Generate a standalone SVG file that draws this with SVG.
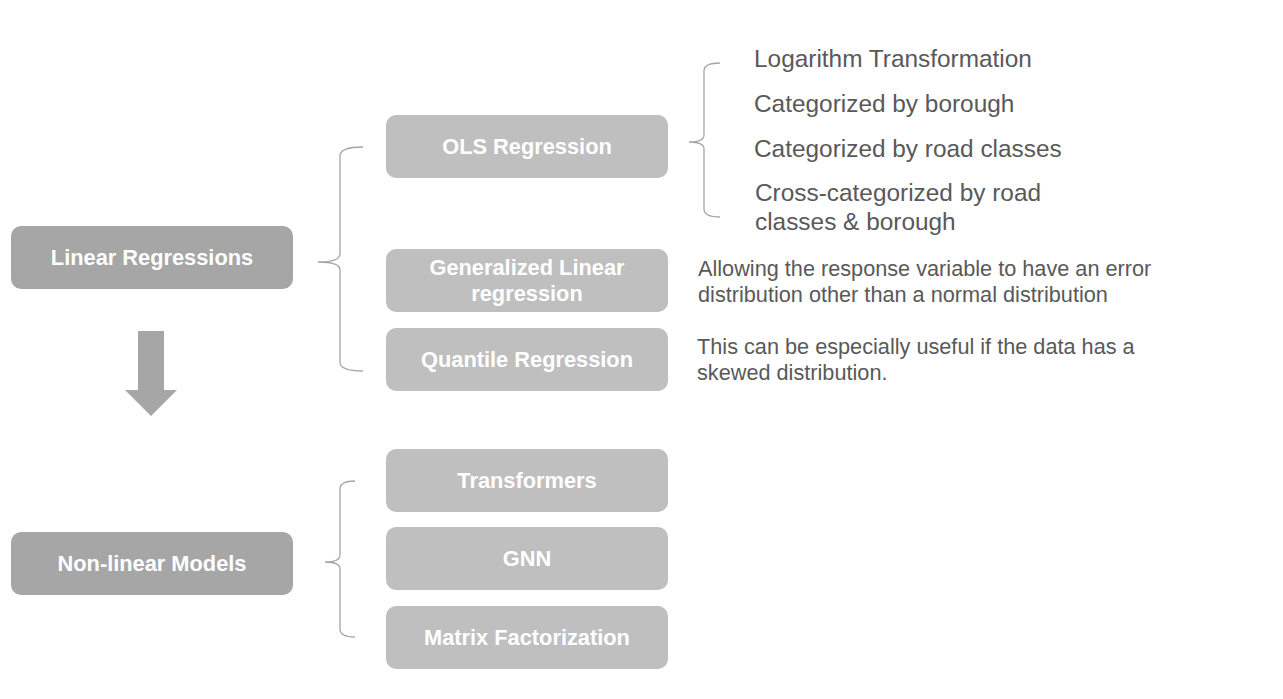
<svg xmlns="http://www.w3.org/2000/svg" width="1283" height="699" viewBox="0 0 1283 699">
<style>
.main{fill:#a6a6a6}
.sub{fill:#bfbfbf}
.bt{font-family:"Liberation Sans",Arial,sans-serif;font-weight:bold;font-size:21.8px;fill:#ffffff;text-anchor:middle}
.dt{font-family:"Liberation Sans",Arial,sans-serif;font-size:21.7px;fill:#595959}
.lt{font-family:"Liberation Sans",Arial,sans-serif;font-size:24.4px;fill:#595959}
.brace{fill:none;stroke:#a6a6a6;stroke-width:1.3}
</style>
<rect width="1283" height="699" fill="#ffffff"/>
<g id="connectors">
<path class="brace" d="M363,147 Q340,147 340,156 L340,254 Q340,262 318,262 Q340,262 340,270 L340,362 Q340,371 363,371"/>
<path class="brace" d="M355,481 Q340,481 340,489 L340,555 Q340,562 325,562 Q340,562 340,569 L340,629 Q340,637 355,637"/>
<path class="brace" d="M720,63 Q704,63 704,71 L704,135 Q704,142 689,142 Q704,142 704,149 L704,209 Q704,217 720,217"/>
<polygon id="arrow" fill="#a6a6a6" points="138,331 164,331 164,390 177,390 151,416 125,390 138,390"/>
</g>
<g id="linear">
<rect class="main" x="11" y="226" width="282" height="63" rx="10"/>
<text class="bt" x="152" y="265">Linear Regressions</text>
</g>
<g id="nonlinear">
<rect class="main" x="11" y="532" width="282" height="63" rx="10"/>
<text class="bt" x="152" y="571">Non-linear Models</text>
</g>
<g id="ols">
<rect class="sub" x="386" y="115" width="282" height="63" rx="10"/>
<text class="bt" x="527" y="154">OLS Regression</text>
</g>
<g id="glm">
<rect class="sub" x="386" y="249" width="282" height="63" rx="10"/>
<text class="bt" x="527" y="275">Generalized Linear</text>
<text class="bt" x="527" y="301">regression</text>
</g>
<g id="quantile">
<rect class="sub" x="386" y="328" width="282" height="63" rx="10"/>
<text class="bt" x="527" y="367">Quantile Regression</text>
</g>
<g id="transformers">
<rect class="sub" x="386" y="449" width="282" height="63" rx="10"/>
<text class="bt" x="527" y="488">Transformers</text>
</g>
<g id="gnn">
<rect class="sub" x="386" y="527" width="282" height="63" rx="10"/>
<text class="bt" x="527" y="566">GNN</text>
</g>
<g id="mf">
<rect class="sub" x="386" y="606" width="282" height="63" rx="10"/>
<text class="bt" x="527" y="645">Matrix Factorization</text>
</g>
<g id="ols-items">
<text class="lt" x="754" y="67">Logarithm Transformation</text>
<text class="lt" x="754" y="112">Categorized by borough</text>
<text class="lt" x="754" y="157">Categorized by road classes</text>
<text class="lt" x="755" y="201">Cross-categorized by road</text>
<text class="lt" x="755" y="230">classes &amp; borough</text>
</g>
<g id="glm-desc">
<text class="dt" x="698" y="276">Allowing the response variable to have an error</text>
<text class="dt" x="698" y="302">distribution other than a normal distribution</text>
</g>
<g id="quantile-desc">
<text class="dt" x="697" y="354">This can be especially useful if the data has a</text>
<text class="dt" x="697" y="380">skewed distribution.</text>
</g>
</svg>
